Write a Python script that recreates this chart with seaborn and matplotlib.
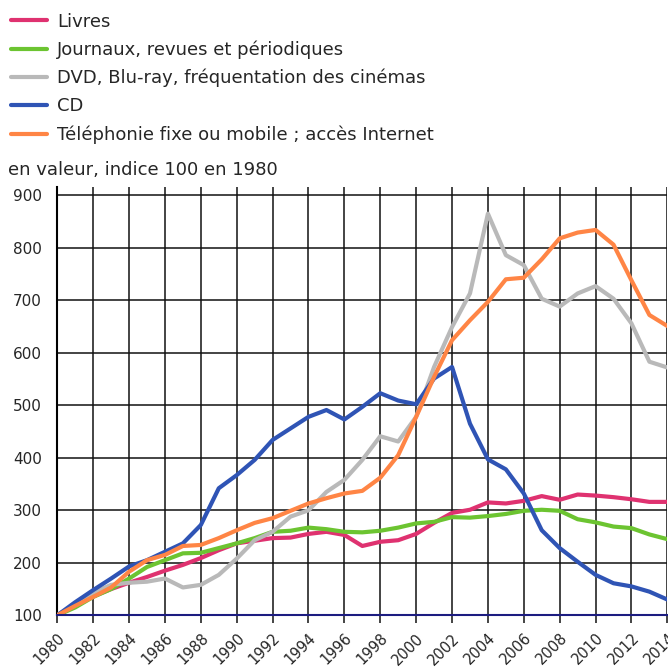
import pandas as pd
import numpy as np
import matplotlib
matplotlib.use("Agg")
import matplotlib.pyplot as plt
import seaborn as sns

# Data (indice 100 en 1980)
years = list(range(1980, 2015))

livres = [100, 118, 136, 150, 162, 173, 185, 196, 209, 224, 237, 242, 247, 248, 255, 259, 253, 232,
          240, 243, 255, 276, 295, 301, 315, 313, 318, 327, 320, 330, 328, 325, 321, 316, 316]
journaux = [100, 115, 135, 150, 170, 192, 205, 218, 219, 228, 237, 247, 259, 261, 267, 264, 259, 258,
            261, 267, 275, 278, 287, 286, 289, 293, 299, 301, 299, 283, 277, 269, 266, 254, 245]
dvd = [100, 122, 143, 158, 162, 164, 170, 153, 158, 177, 208, 243, 259, 288, 300, 335, 358, 396,
       441, 431, 478, 573, 649, 713, 865, 786, 767, 703, 688, 713, 727, 703, 656, 583, 572]
cd = [100, 125, 148, 170, 193, 205, 221, 237, 272, 342, 367, 396, 434, 456, 478, 491, 473, 497,
      523, 509, 502, 551, 573, 465, 397, 378, 332, 262, 228, 202, 177, 161, 155, 145, 130]
telephonie = [100, 118, 135, 153, 183, 205, 215, 232, 234, 247, 262, 276, 285, 299, 313, 323, 332, 337,
              362, 405, 478, 554, 624, 662, 697, 740, 743, 778, 818, 829, 834, 806, 738, 672, 651]

labels = ["Livres", "Journaux, revues et périodiques", "DVD, Blu-ray, fréquentation des cinémas",
          "CD", "Téléphonie fixe ou mobile ; accès Internet"]
colors = ["#df3270", "#6cc431", "#b9b9b9", "#2f54b5", "#ff8545"]

df = pd.DataFrame({"annee": years, labels[0]: livres, labels[1]: journaux, labels[2]: dvd,
                   labels[3]: cd, labels[4]: telephonie})
long_df = df.melt(id_vars="annee", var_name="serie", value_name="indice")

sns.set_style("white")
plt.rcParams['font.family'] = ['DejaVu Sans']

fig = plt.figure(figsize=(6.68, 6.72), dpi=100)
ax = fig.add_axes([0.0858, 0.0844, 0.9132, 0.6367])

sns.lineplot(data=long_df, x="annee", y="indice", hue="serie", hue_order=labels,
             palette=dict(zip(labels, colors)), linewidth=3.0, ax=ax, legend=False,
             zorder=3)

ax.set_xlim(1980, 2014)
ax.set_ylim(100, 915)
ax.set_xticks(range(1980, 2015, 2))
ax.set_yticks(range(100, 1000, 100))
ax.grid(True, color="#111111", linewidth=1.1)
ax.set_axisbelow(True)
ax.set_xlabel("")
ax.set_ylabel("")

for s in ["top", "right"]:
    ax.spines[s].set_visible(False)
ax.spines["left"].set_color("black")
ax.spines["left"].set_linewidth(1.5)
ax.spines["bottom"].set_color("#1c1c80")
ax.spines["bottom"].set_linewidth(1.5)
ax.spines["bottom"].set_zorder(4)

ax.tick_params(axis="y", length=6, width=1.1, color="#111111", labelsize=11, pad=5)
ax.tick_params(axis="x", length=6, width=1.1, color="#111111", labelsize=10.5, pad=5,
               direction="out", bottom=True)
plt.setp(ax.get_xticklabels(), rotation=45, ha="right", rotation_mode="anchor")

handles = [plt.Line2D([], [], color=c, linewidth=3.0) for c in colors]
fig.legend(handles, labels, loc="upper left", bbox_to_anchor=(0.0057, 0.992), frameon=False,
           fontsize=13, handlelength=2.0, handletextpad=0.55, labelspacing=0.55,
           borderaxespad=0.0)

fig.text(0.012, 0.7396, "en valeur, indice 100 en 1980", fontsize=13, ha="left", va="baseline")

fig.savefig("out.png", dpi=100)
